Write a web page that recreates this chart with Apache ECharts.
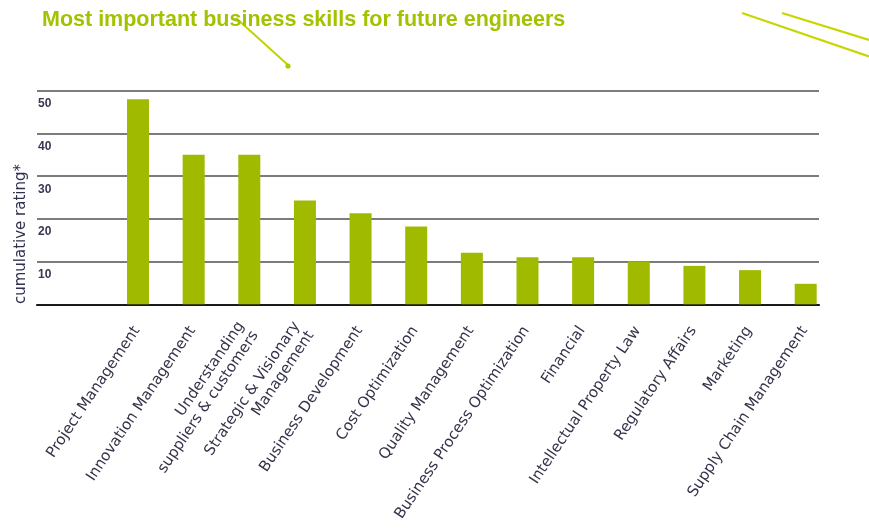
<!DOCTYPE html>
<html>
<head>
<meta charset="utf-8">
<script src="https://cdn.jsdelivr.net/npm/echarts@6/dist/echarts.min.js"></script>
<style>html,body{margin:0;padding:0;background:#fff;}#c{width:869px;height:530px;}</style>
</head>
<body>
<div id="c"></div>
<script>
var titleText = 'Most important business skills for future engineers';
var axisTitle = 'cumulative rating*';
var categories = ['Project Management', 'Innovation Management', 'Understanding\nsuppliers & customers',
  'Strategic & Visionary\nManagement', 'Business Development', 'Cost Optimization', 'Quality Management',
  'Business Process Optimization', 'Financial', 'Intellectual Property Law', 'Regulatory Affairs',
  'Marketing', 'Supply Chain Management'];
var ratings = [48, 35, 35, 24.3, 21.3, 18.2, 12.1, 11, 11, 10, 9, 8, 4.8];
var yTicks = [0, 10, 20, 30, 40, 50];

var chart = echarts.init(document.getElementById('c'), null, {renderer: 'canvas'});
var gTop = 90.8, gBottom = 530 - 304.3;
var option = {
  animation: false,
  backgroundColor: '#fff',
  title: {
    text: titleText, left: 37, top: 4,
    textStyle: {color: '#a3c200', fontSize: 21.5, fontWeight: 'bold', fontFamily: 'Liberation Sans'}
  },
  grid: [
    {left: 37, right: 50, top: gTop, bottom: gBottom, containLabel: false},
    {left: 110.2, right: 35.5, top: gTop, bottom: gBottom, containLabel: false}
  ],
  xAxis: [
    {gridIndex: 0, type: 'value', min: 0, max: 1, show: true,
      axisLine: {show: true, lineStyle: {color: '#1a1a1a', width: 2.2}},
      axisTick: {show: false}, axisLabel: {show: false}, splitLine: {show: false}},
    {gridIndex: 1, type: 'category', data: categories,
      axisLine: {show: false}, axisTick: {show: false},
      axisLabel: {rotate: 56, margin: 22, interval: 0, color: '#34344a', fontSize: 15,
        fontFamily: 'DejaVu Sans', lineHeight: 17, align: 'right', padding: [0, 2, 0, 0]}}
  ],
  yAxis: [
    {gridIndex: 0, type: 'value', min: yTicks[0], max: yTicks[yTicks.length - 1], interval: 10,
      axisLine: {show: false}, axisTick: {show: false},
      splitLine: {show: true, lineStyle: {color: '#7c7c7c', width: 2}},
      axisLabel: {inside: true, margin: 1, showMinLabel: false, verticalAlign: 'top', padding: [7, 0, 0, 0],
        color: '#3d3552', fontSize: 12, fontWeight: 'bold', fontFamily: 'Liberation Sans',
        formatter: function (v) { return yTicks.indexOf(v) >= 0 ? String(v) : ''; }}},
    {gridIndex: 1, type: 'value', min: yTicks[0], max: yTicks[yTicks.length - 1], interval: 10, show: false,
      splitLine: {show: false}}
  ],
  series: [{
    type: 'bar', xAxisIndex: 1, yAxisIndex: 1, data: ratings, barWidth: 22,
    itemStyle: {color: '#a0ba00'}, z: 1
  }],
  graphic: [
    {type: 'text', x: 21, y: 234, rotation: Math.PI / 2,
      style: {text: axisTitle, fill: '#2f2f4f', fontSize: 15, fontFamily: 'DejaVu Sans',
        align: 'center', verticalAlign: 'middle'}},
    {type: 'line', shape: {x1: 236, y1: 18, x2: 288, y2: 65}, style: {stroke: '#c3d300', lineWidth: 2}},
    {type: 'circle', shape: {cx: 288, cy: 66, r: 2.6}, style: {fill: '#b6c800'}},
    {type: 'line', shape: {x1: 742, y1: 13, x2: 869, y2: 56.5}, style: {stroke: '#c8d600', lineWidth: 2.2}},
    {type: 'line', shape: {x1: 782, y1: 13, x2: 869, y2: 40}, style: {stroke: '#c8d600', lineWidth: 2.2}}
  ]
};
chart.setOption(option);
</script>
</body>
</html>
